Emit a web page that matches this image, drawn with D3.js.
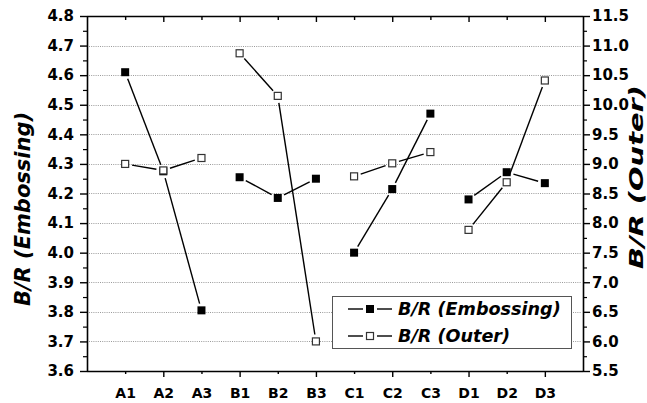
<!DOCTYPE html>
<html>
<head>
<meta charset="utf-8">
<script src="https://cdn.jsdelivr.net/npm/d3@7/dist/d3.min.js"></script>
<style>
  html, body { margin: 0; padding: 0; background: #fff; }
  svg { display: block; }
  text { font-family: "DejaVu Sans", Arial, sans-serif; }
</style>
</head>
<body>
<svg id="chart" width="647" height="403"></svg>
<script>
// ---- data ----
const categories = ["A1","A2","A3","B1","B2","B3","C1","C2","C3","D1","D2","D3"];
const embossing = [4.61, 4.275, 3.805, 4.255, 4.185, 4.25, 4.0, 4.215, 4.47, 4.18, 4.272, 4.235];
const outer = [9.0, 8.89, 9.10, 10.87, 10.15, 6.0, 8.79, 9.01, 9.20, 7.885, 8.69, 10.41];
const leftTicks = [3.6,3.7,3.8,3.9,4.0,4.1,4.2,4.3,4.4,4.5,4.6,4.7,4.8];
const rightTicks = [5.5,6.0,6.5,7.0,7.5,8.0,8.5,9.0,9.5,10.0,10.5,11.0,11.5];
const seriesNames = ["B/R (Embossing)", "B/R (Outer)"];
const leftTitle = "B/R (Embossing)";
const rightTitle = "B/R (Outer)";

// ---- layout ----
const L = 87, R = 583, T = 16, B = 371;
const svg = d3.select("#chart");

const x = d3.scalePoint().domain(categories).range([L, R]).padding(1);
const yL = d3.scaleLinear().domain([3.6, 4.8]).range([B, T]);
const yR = d3.scaleLinear().domain([5.5, 11.5]).range([B, T]);

// grid
svg.append("g").selectAll("line")
  .data(leftTicks.slice(1, -1))
  .join("line")
  .attr("x1", L + 2).attr("x2", R - 2)
  .attr("y1", d => Math.round(yL(d)) + 0.5).attr("y2", d => Math.round(yL(d)) + 0.5)
  .attr("stroke", "#9a9a9a").attr("stroke-width", 1)
  .attr("stroke-dasharray", "1,1.2");

// left axis major
const gL = svg.append("g").attr("transform", `translate(${L},0)`)
  .call(d3.axisLeft(yL).tickValues(leftTicks).tickFormat(d3.format(".1f")).tickSize(7).tickSizeOuter(0).tickPadding(6));
gL.select(".domain").attr("stroke-width", 1.6);
gL.selectAll(".tick line").attr("stroke-width", 1.4);
gL.selectAll(".tick text").attr("font-size", 15).attr("font-weight", "bold").attr("fill", "#000");
// left minor
const leftMinor = leftTicks.slice(0, -1).map(d => d + 0.05);
svg.append("g").attr("transform", `translate(${L},0)`)
  .call(d3.axisLeft(yL).tickValues(leftMinor).tickFormat("").tickSize(4).tickSizeOuter(0))
  .call(g => g.select(".domain").remove())
  .selectAll(".tick line").attr("stroke-width", 1.2);

// right axis major
const gR = svg.append("g").attr("transform", `translate(${R},0)`)
  .call(d3.axisRight(yR).tickValues(rightTicks).tickFormat(d3.format(".1f")).tickSize(7).tickSizeOuter(0).tickPadding(2));
gR.select(".domain").attr("stroke-width", 1.6);
gR.selectAll(".tick line").attr("stroke-width", 1.4);
gR.selectAll(".tick text").attr("font-size", 15).attr("font-weight", "bold").attr("fill", "#000");
const rightMinor = rightTicks.slice(0, -1).map(d => d + 0.25);
svg.append("g").attr("transform", `translate(${R},0)`)
  .call(d3.axisRight(yR).tickValues(rightMinor).tickFormat("").tickSize(4).tickSizeOuter(0))
  .call(g => g.select(".domain").remove())
  .selectAll(".tick line").attr("stroke-width", 1.2);

// bottom axis
const gB = svg.append("g").attr("transform", `translate(0,${B})`)
  .call(d3.axisBottom(x).tickSize(6).tickSizeOuter(0).tickPadding(11));
gB.select(".domain").attr("d", `M${L},0.5H${R}`).attr("stroke-width", 1.6);
gB.selectAll(".tick line").attr("y2", (d, i) => i % 2 === 0 ? 3 : 6).attr("stroke-width", 1.4);
gB.selectAll(".tick text").attr("font-size", 14).attr("font-weight", "bold").attr("fill", "#000");

// top axis (inward ticks)
const gT = svg.append("g").attr("transform", `translate(0,${T})`)
  .call(d3.axisBottom(x).tickSize(6).tickSizeOuter(0).tickFormat(""));
gT.select(".domain").attr("d", `M${L},0.5H${R}`).attr("stroke-width", 1.6);
gT.selectAll(".tick line").attr("y2", (d, i) => i % 2 === 0 ? 4 : 6).attr("stroke-width", 1.4);

// ---- series ----
function drawSeries(values, yScale, filled) {
  const pts = values.map((v, i) => ({ cat: categories[i], v, i }));
  const gap = 7;
  const segs = [];
  for (let i = 0; i < pts.length - 1; i++) {
    if (Math.floor(i / 3) !== Math.floor((i + 1) / 3)) continue;
    const x1 = x(pts[i].cat), y1 = yScale(pts[i].v);
    const x2 = x(pts[i + 1].cat), y2 = yScale(pts[i + 1].v);
    const dx = x2 - x1, dy = y2 - y1, len = Math.hypot(dx, dy);
    const ux = dx / len, uy = dy / len;
    segs.push({ x1: x1 + ux * gap, y1: y1 + uy * gap, x2: x2 - ux * gap, y2: y2 - uy * gap });
  }
  const g = svg.append("g");
  g.selectAll("line").data(segs).join("line")
    .attr("x1", d => d.x1).attr("y1", d => d.y1).attr("x2", d => d.x2).attr("y2", d => d.y2)
    .attr("stroke", "#000").attr("stroke-width", 1.4);
  const s = filled ? 8 : 7;
  g.selectAll("rect").data(pts).join("rect")
    .attr("x", d => x(d.cat) - s / 2).attr("y", d => yScale(d.v) - s / 2)
    .attr("width", s).attr("height", s)
    .attr("fill", filled ? "#000" : "#fff")
    .attr("stroke", filled ? "none" : "#333").attr("stroke-width", 1.2);
}
drawSeries(embossing, yL, true);
drawSeries(outer, yR, false);

// ---- legend ----
const lg = svg.append("g");
lg.append("rect").attr("x", 332.5).attr("y", 296.5).attr("width", 239).attr("height", 52)
  .attr("fill", "#fff").attr("stroke", "#555").attr("stroke-width", 1);
const rows = [{ name: seriesNames[0], filled: true, y: 309 }, { name: seriesNames[1], filled: false, y: 336 }];
rows.forEach(r => {
  lg.append("line").attr("x1", 348).attr("x2", 363).attr("y1", r.y).attr("y2", r.y).attr("stroke", "#000").attr("stroke-width", 1.4);
  lg.append("line").attr("x1", 377).attr("x2", 392).attr("y1", r.y).attr("y2", r.y).attr("stroke", "#000").attr("stroke-width", 1.4);
  const s = r.filled ? 8 : 7;
  lg.append("rect").attr("x", 370 - s / 2).attr("y", r.y - s / 2).attr("width", s).attr("height", s)
    .attr("fill", r.filled ? "#000" : "#fff").attr("stroke", r.filled ? "none" : "#333").attr("stroke-width", 1.2);
  lg.append("text").attr("x", 398).attr("y", r.y).attr("dy", "0.36em")
    .attr("font-size", 17.6).attr("font-style", "italic").attr("font-weight", "bold").text(r.name);
});

// ---- axis titles ----
svg.append("text").attr("transform", "translate(22,209) rotate(-90)")
  .attr("text-anchor", "middle").attr("dy", "0.36em")
  .attr("font-size", 21).attr("font-weight", "bold").attr("font-style", "italic").text(leftTitle);
svg.append("text").attr("transform", "translate(636,177) rotate(-90)")
  .attr("text-anchor", "middle").attr("dy", "0.36em")
  .attr("font-size", 20).attr("font-weight", "bold").attr("font-style", "italic")
  .attr("textLength", 184).attr("lengthAdjust", "spacingAndGlyphs").text(rightTitle);
</script>
</body>
</html>
